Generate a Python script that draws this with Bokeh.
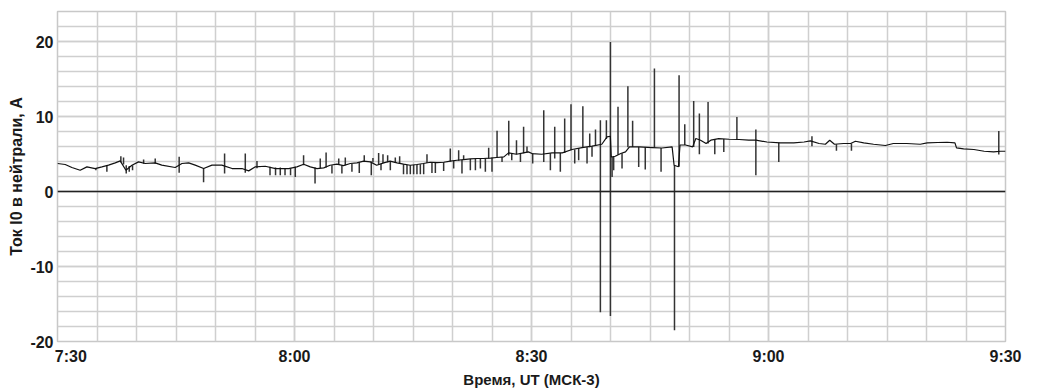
from bokeh.plotting import figure
from bokeh.models import Range1d, FixedTicker, Span
from bokeh.embed import file_html
from bokeh.resources import INLINE

# ---- axis ticks / labels ----
tick_minutes = [0, 30, 60, 90, 120]          # minutes after 7:30
tick_labels = ["7:30", "8:00", "8:30", "9:00", "9:30"]
y_ticks = [-20, -10, 0, 10, 20]
y_tick_labels = ["-20", "-10", "0", "10", "20"]

# ---- baseline current (minutes after 7:30, A) ----
base_minutes = [0, 0.98, 1.82, 2.87, 3.72, 4.77, 5.62, 6.46, 7.31, 7.94,
                8.66, 9.42, 10.26, 11.1, 12.37, 13.2, 14.9, 15.75, 16.6, 17.43,
                18.5, 19.55, 20.8, 22.1, 23.35, 24.2, 25.0, 26.3, 27.6, 29.25,
                30.3, 31.16, 32.0, 32.85, 33.7, 34.5, 35.37, 36.2, 37.06, 37.9,
                38.75, 39.6, 40.4, 41.3, 42.1, 42.97, 43.8, 44.65, 45.5, 46.3,
                47.2, 48.0, 48.9, 49.72, 50.56, 51.4, 52.25, 53.1, 53.9, 54.8,
                55.6, 56.5, 57.1, 58.1, 58.98, 59.6,
                60.06, 61.3, 62.6, 63.9, 65.13, 66.4, 67.67, 68.9, 69.56, 69.98,
                70.1, 70.6, 71.3, 71.9, 72.4, 73.6, 75.3, 76.5, 77.8, 78.05,
                78.6, 78.8, 79.5, 80.4, 80.8, 81.4, 82.1, 82.7, 83.7, 85.0,
                86.3, 87.5, 88.4,
                89.8, 91.5, 93.2, 94.5, 95.3, 96.4, 97.2, 97.75, 98.35, 99.5,
                100.4, 101.0, 102.06, 103.3, 104.8, 105.8, 107.5, 109.2, 110.1, 111.4,
                112.6, 113.6, 113.8, 114.7, 116.0, 117.3, 118.5, 119.4, 120]
base_current = [3.73, 3.6, 3.2, 2.84, 3.28, 3.06, 3.28, 3.51, 3.82, 4.08,
                2.84, 3.51, 3.95, 3.73, 3.82, 3.51, 3.2, 3.73, 3.82, 3.51,
                3.06, 3.51, 3.51, 3.06, 3.06, 2.75, 3.28, 3.37, 3.06, 3.06,
                3.28, 3.64, 3.28, 3.06, 3.15, 3.5, 3.64, 3.46, 3.73, 3.82,
                4.04, 3.95, 3.5, 3.82, 4.04, 3.82, 3.64, 3.5, 3.6, 3.73,
                3.9, 3.86, 3.9, 4.04, 4.17, 4.26, 4.35, 4.4, 4.4, 4.44,
                4.53, 4.62, 5.15, 4.97, 5.15, 5.28,
                5.06, 4.97, 5.15, 5.15, 5.6, 5.86, 6.04, 6.3, 7.28, 7.37,
                4.6, 4.7, 5.06, 5.28, 5.95, 5.95, 5.86, 5.8, 5.95, 3.5,
                3.3, 6.2, 6.2, 5.95, 7.06, 6.84, 6.4, 6.84, 7.06, 6.97,
                6.93, 6.84, 6.84,
                6.6, 6.48, 6.48, 6.6, 6.75, 6.4, 6.3, 6.84, 6.3, 6.4,
                6.4, 6.7, 6.48, 6.3, 6.13, 6.4, 6.4, 6.3, 6.48, 6.53,
                6.57, 6.48, 5.82, 5.68, 5.6, 5.37, 5.28, 5.37, 5.37]

# ---- short spikes (minutes after 7:30, low A, high A) ----
spike_minutes = [4.86, 6.25, 8.02, 8.36, 8.7, 9.08, 9.5, 10.9, 12.37, 15.4,
                 18.49, 21.15, 23.77, 25.25, 26.9, 27.6, 28.2, 28.8, 29.5,
                 30.1, 31.15, 32.6, 33.26, 34.0, 34.74, 35.6, 36.0, 36.43, 37.27,
                 38.2, 38.83, 39.72, 39.93, 40.65, 40.95, 41.2, 41.79, 42.13, 42.76,
                 43.31, 43.8, 44.24, 44.66, 45.08, 45.5, 45.93, 46.35, 46.77, 47.4,
                 47.83, 48.88, 49.72, 50.15, 50.78, 51.2, 51.41, 52.26, 52.9, 53.53,
                 54.16, 54.58, 55.0, 55.64, 56.27, 57.12, 57.5, 58.1, 58.6, 59.0, 59.43,
                 60.15, 61.55, 62.39, 62.94, 63.65, 64.2, 65.0, 65.47, 65.97, 66.5,
                 67.03, 67.37, 67.66, 68.1, 68.72, 69.48, 69.99, 70.2, 70.4, 70.95,
                 71.46, 72.2, 72.8, 73.57, 74.4, 75.56, 76.4, 78.1, 78.68, 79.4,
                 80.53, 81.25, 82.35, 83.2, 84.34, 86.0, 88.4,
                 91.3, 95.5, 98.6, 100.5, 119.15]
spike_low = [2.84, 2.62, 3.9, 3.6, 2.4, 2.62, 2.84, 3.7, 3.7, 2.5,
             1.24, 2.4, 2.5, 3.1, 2.17, 2.17, 2.17, 2.17, 2.17,
             1.95, 3.5, 1.06, 3.1, 3.2, 2.4, 3.6, 2.4, 3.5, 2.62,
             2.48, 4.0, 2.17, 3.9, 3.6, 2.84, 3.8, 3.9, 2.84, 3.8,
             3.7, 2.31, 2.31, 2.31, 2.31, 2.31, 2.31, 2.31, 3.8, 2.48,
             2.48, 2.75, 4.0, 3.06, 4.1, 2.4, 4.2, 2.84, 2.84, 3.06,
             2.62, 4.4, 2.62, 4.5, 3.95, 4.8, 4.17, 4.97, 3.95, 5.1, 5.2,
             3.73, 3.95, 2.84, 4.4, 2.62, 5.15, 5.5, 3.73, 4.17, 5.86,
             3.73, 5.9, 4.62, 6.1, -16.1, 7.0, -16.6, 1.95, 2.84, 4.9,
             3.06, 5.9, 5.95, 3.28, 2.93, 5.86, 2.62, -18.5, 3.3, 6.2,
             5.95, 4.97, 6.4, 4.97, 5.28, 6.9, 2.17,
             3.95, 6.04, 5.42, 5.42, 4.93]
spike_high = [3.1, 3.4, 4.7, 4.53, 3.5, 3.4, 3.5, 4.26, 4.4, 4.62,
              3.1, 5.06, 5.06, 4.08, 3.3, 3.2, 3.2, 3.1, 3.1,
              3.3, 4.84, 3.2, 4.4, 5.2, 3.5, 4.4, 3.5, 4.53, 3.7,
              3.9, 4.84, 4.0, 4.48, 5.15, 3.7, 4.97, 4.84, 4.0, 4.53,
              4.7, 3.64, 3.55, 3.5, 3.55, 3.6, 3.65, 3.73, 4.97, 3.9,
              3.86, 3.9, 5.73, 4.1, 5.51, 4.2, 4.84, 4.35, 4.4, 4.4,
              4.4, 5.82, 4.5, 8.09, 4.6, 9.42, 5.1, 6.84, 5.0, 8.62, 6.0,
              5.1, 10.84, 5.1, 8.64, 5.15, 9.73, 11.64, 5.6, 5.8, 11.38,
              5.9, 7.73, 6.04, 8.26, 9.5, 9.5, 19.95, 4.6, 4.7, 11.29,
              5.1, 14.04, 9.42, 5.95, 5.9, 16.4, 5.8, 3.5, 15.5, 8.97,
              12.08, 10.4, 11.95, 7.0, 7.0, 9.95, 8.26,
              6.5, 7.37, 6.3, 6.4, 8.08]

FONT = "Liberation Sans"
GRID = "#cfcfcf"

p = figure(width=1037, height=390, output_backend="svg", toolbar_location=None,
           x_range=Range1d(0, 120), y_range=Range1d(-20, 24),
           min_border_left=57, min_border_right=32, min_border_top=11,
           min_border_bottom=49, background_fill_color="white",
           border_fill_color="white")

xt = FixedTicker(ticks=tick_minutes, minor_ticks=list(range(0, 121, 5)))
yt = FixedTicker(ticks=y_ticks, minor_ticks=list(range(-20, 25, 2)))
p.xaxis.ticker = xt
p.yaxis.ticker = yt
p.xgrid.ticker = xt
p.ygrid.ticker = yt

for g in (p.xgrid, p.ygrid):
    g.grid_line_color = GRID
    g.grid_line_width = 1.5
    g.minor_grid_line_color = GRID
    g.minor_grid_line_width = 1.5

p.outline_line_color = "#c8c8c8"
p.outline_line_width = 1.5

overrides = {m: l for m, l in zip(tick_minutes, tick_labels)}
overrides[tick_minutes[0]] = "\u00a0" * 6 + tick_labels[0]
p.xaxis.major_label_overrides = overrides
p.yaxis.major_label_overrides = {v: l for v, l in zip(y_ticks, y_tick_labels)}

for ax in (p.xaxis, p.yaxis):
    ax.axis_line_color = None
    ax.major_tick_line_color = None
    ax.minor_tick_line_color = None
    ax.major_tick_out = 0
    ax.major_tick_in = 0
    ax.minor_tick_out = 0
    ax.minor_tick_in = 0
    ax.major_label_text_font = FONT
    ax.major_label_text_font_style = "bold"
    ax.major_label_text_font_size = "16px"
    ax.major_label_text_color = "#1a1a1a"
    ax.axis_label_text_font = FONT
    ax.axis_label_text_font_style = "bold"
    ax.axis_label_text_color = "#1a1a1a"

p.xaxis.major_label_standoff = 6
p.yaxis.major_label_standoff = 4
p.xaxis.axis_label = "Время, UT (МСК-3)"
p.yaxis.axis_label = "Ток I0 в нейтрали, А"
p.xaxis.axis_label_text_font_size = "15px"
p.yaxis.axis_label_text_font_size = "16px"
p.xaxis.axis_label_standoff = 3
p.yaxis.axis_label_standoff = 2

p.add_layout(Span(location=0, dimension="width", line_color="#222222", line_width=1.5))

p.segment(x0=spike_minutes, y0=spike_low, x1=spike_minutes, y1=spike_high,
          line_color="#333333", line_width=1.5)
p.line(base_minutes, base_current, line_color="#111111", line_width=1.2)

open("out.html", "w").write(file_html(p, INLINE))
